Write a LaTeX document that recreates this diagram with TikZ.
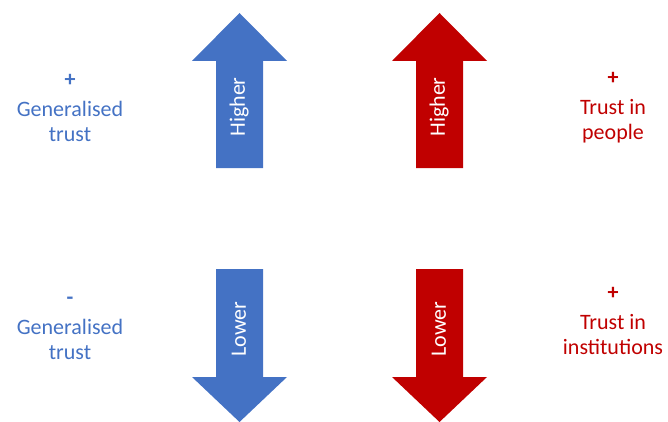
\documentclass[tikz,border=0pt]{standalone}
\usepackage{fontspec}
\setmainfont{Carlito}
\usepackage{xcolor}
\definecolor{trustblue}{HTML}{4472C4}
\definecolor{trustred}{HTML}{C00000}

\newcommand{\trustup}[2] % x centre in px, colour
{
	% head and shaft in one outline
	\fill[#2] (#1,13) -- (#1+47.5,61) -- (#1+23.5,61) -- (#1+23.5,168)
		-- (#1-23.5,168) -- (#1-23.5,61) -- (#1-47.5,61) -- cycle;
}
\newcommand{\trustdown}[2] % x centre in px, colour
{
	\fill[#2] (#1,422) -- (#1+47.5,377) -- (#1+23.5,377) -- (#1+23.5,269)
		-- (#1-23.5,269) -- (#1-23.5,377) -- (#1-47.5,377) -- cycle;
}

\begin{document}
\begin{tikzpicture}[x=1pt, y=-1pt, every node/.style={font=\fontsize{22}{25}\selectfont, align=center}]
	\useasboundingbox (0,0) rectangle (668,422);
	% 668px x 422px, 1px = 1pt
	% arrows
	\trustup{239.5}{trustblue};
	\trustup{439.5}{trustred};
	\trustdown{239.5}{trustblue};
	\trustdown{439.5}{trustred};
	% words in the arrows
	\node[white, rotate=90] (bluehigh) at (239,107) {Higher};
	\node[white, rotate=90] (redhigh) at (439,107) {Higher};
	\node[white, rotate=90] (bluelow) at (239,329) {Lower};
	\node[white, rotate=90] (redlow) at (439,329) {Lower};
	% side labels
	\node[trustblue] (gentop) at (70,108) {\textbf{+}\\[5pt]Generalised\\trust};
	\node[trustblue] (genbot) at (70,328) {\textbf{-}\\[5pt]Generalised\\trust};
	\node[trustred] (people) at (613,108) {\textbf{+}\\[5pt]Trust in\\people};
	\node[trustred] (instit) at (613,321) {\textbf{+}\\[5pt]Trust in\\institutions};
	
\end{tikzpicture}
\end{document}
